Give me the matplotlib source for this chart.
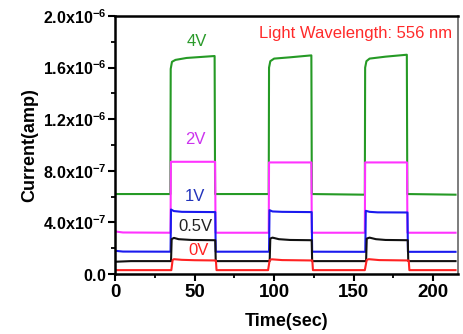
#
# Photocurrent response under on/off illumination at several bias voltages.
#

import matplotlib
matplotlib.use("Agg")
import matplotlib.pyplot as plt
from matplotlib.ticker import MultipleLocator, FuncFormatter
import numpy as np

plt.rcParams['font.family'] = ['Liberation Sans', 'DejaVu Sans']
plt.rcParams['mathtext.fontset'] = 'custom'
plt.rcParams['mathtext.bf'] = 'Liberation Sans:bold'
plt.rcParams['mathtext.rm'] = 'Liberation Sans'

# traces (time in s, current in units of 1e-7 A)
t_4v = [0, 34.8, 35.0, 35.8, 38, 45, 62.6, 62.9, 96.6, 96.8, 97.6, 100, 110, 123.4, 123.7,
        157.0, 157.2, 158.0, 160, 170, 183.4, 183.7, 214]
i_4v = [6.2, 6.2, 15.9, 16.45, 16.6, 16.75, 16.9, 6.2, 6.2, 16.0, 16.5, 16.7, 16.8, 16.95, 6.2,
        6.15, 16.0, 16.5, 16.7, 16.85, 17.0, 6.2, 6.15]

t_2v = [0, 5, 34.9, 35.1, 62.9, 63.2, 96.6, 96.8, 123.4, 123.7, 157.0, 157.2, 183.5, 183.8, 214]
i_2v = [3.3, 3.22, 3.2, 8.7, 8.7, 3.2, 3.2, 8.65, 8.65, 3.2, 3.2, 8.65, 8.65, 3.2, 3.2]

t_1v = [0, 5, 34.9, 35.2, 37, 42, 63.0, 63.3, 96.8, 97.1, 99, 105, 123.6, 123.9,
        157.3, 157.6, 160, 165, 183.8, 184.1, 214]
i_1v = [1.8, 1.74, 1.73, 5.0, 4.88, 4.82, 4.8, 1.73, 1.73, 4.95, 4.85, 4.82, 4.8, 1.73,
        1.72, 4.9, 4.82, 4.78, 4.77, 1.72, 1.72]

t_05v = [0, 10, 35.2, 35.6, 37, 40, 48, 63.0, 63.3, 97.2, 97.6, 99, 103, 110, 123.6, 123.9,
         157.8, 158.2, 160, 164, 170, 184.0, 184.3, 214]
i_05v = [0.95, 1.0, 1.0, 2.7, 2.8, 2.7, 2.64, 2.62, 1.0, 1.0, 2.75, 2.82, 2.7, 2.64, 2.62, 1.0,
         1.0, 2.75, 2.82, 2.7, 2.64, 2.62, 1.0, 1.0]

t_0v = [0, 35.4, 36.2, 37, 42, 50, 63.4, 63.8, 96.2, 97.2, 98.5, 105, 124.0, 124.4,
        157.0, 158.2, 159.5, 166, 184.6, 185.0, 214]
i_0v = [0.3, 0.3, 1.08, 1.15, 1.1, 1.07, 1.05, 0.3, 0.3, 1.08, 1.14, 1.08, 1.05, 0.3,
        0.3, 1.1, 1.15, 1.08, 1.05, 0.3, 0.3]

series = [
    (t_4v, i_4v, '#259a25', '4V', 51.6, 18.0),
    (t_2v, i_2v, '#ff33ff', '2V', 50.3, 10.4),
    (t_1v, i_1v, '#1a1aee', '1V', 50.3, 6.0),
    (t_05v, i_05v, '#111111', '0.5V', 50.3, 3.67),
    (t_0v, i_0v, '#ff2222', '0V', 52.2, 1.86),
]
label_colors = ['#2a9a2a', '#cc33ee', '#2233bb', '#222222', '#ff2222']

fig = plt.figure(figsize=(4.63, 3.34), dpi=100)
ax = fig.add_axes([0.2484, 0.1796, 0.7406, 0.7724])

for (t, i, c, lab, lx, ly), lc in zip(series, label_colors):
    ax.plot(t, np.array(i) * 1e-7, color=c, lw=1.5)
    ax.text(lx, ly * 1e-7, lab, color=lc, fontsize=12, ha='center', va='center')

ax.text(151, 1.868e-6, 'Light Wavelength: 556 nm', color='#ff2a2a', fontsize=12,
        ha='center', va='center')

ax.set_xlim(0, 215.5)
ax.set_ylim(0, 2.0e-6)


def sci_fmt(v, pos):
    if v < -1e-12:
        return ''
    if abs(v) < 1e-12:
        return r'$\mathbf{0.0}$'
    e = int(np.floor(np.log10(v) + 1e-9))
    m = v / 10**e
    return r'$\mathbf{%.1fx10^{%d}}$' % (m, e)


ax.yaxis.set_major_locator(MultipleLocator(4e-7))
ax.yaxis.set_minor_locator(MultipleLocator(2e-7))
ax.yaxis.set_major_formatter(FuncFormatter(sci_fmt))
ax.xaxis.set_major_locator(MultipleLocator(50))
ax.xaxis.set_minor_locator(MultipleLocator(25))

ax.tick_params(axis='y', which='major', labelsize=11.5, length=5, width=1.5, pad=1)
ax.tick_params(axis='x', which='major', labelsize=13.5, length=5, width=1.5, pad=2)
ax.tick_params(which='minor', length=3, width=1.3)
for lab in ax.get_xticklabels():
    lab.set_fontweight('bold')

for s in ['left', 'bottom', 'top']:
    ax.spines[s].set_linewidth(1.8)
ax.spines['right'].set_linewidth(1.2)
ax.spines['right'].set_color('#666666')

ax.set_xlabel('Time(sec)', fontsize=13, fontweight='bold')
ax.set_ylabel('Current(amp)', fontsize=13, fontweight='bold')
ax.xaxis.set_label_coords(0.5, -0.15)
ax.yaxis.set_label_coords(-0.225, 0.5)

fig.savefig('out.png', dpi=100)
